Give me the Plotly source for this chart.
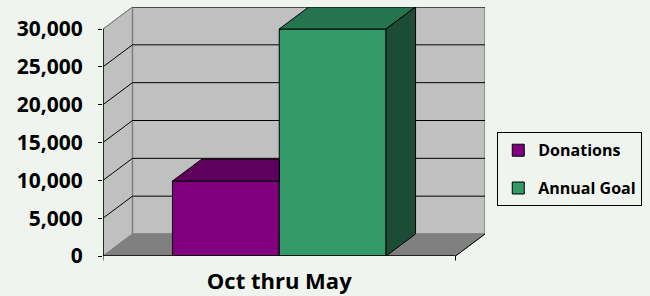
import plotly.graph_objects as go

# ---- data ----
categories = ["Oct thru May"]
series_names = ["Donations", "Annual Goal"]
donations = [9900]
annual_goal = [30000]
y_tickvals = [0, 5000, 10000, 15000, 20000, 25000, 30000]
y_ticktext = ["0", "5,000", "10,000", "15,000", "20,000", "25,000", "30,000"]

# ---- style / layout constants ----
front_colors = ["#800080", "#339966"]
top_colors = ["#5E005E", "#267350"]
side_colors = ["#4A004A", "#1C4C35"]
bg = "#F0F4EF"
wall = "#C0C0C0"
floor = "#808080"
edge = "#808080"
font_family = "Open Sans"

bar_width = 0.303          # in category units
depth_x = 0.0836           # 3-D depth offset along x (category units)
y_max_axis = y_tickvals[-1]
depth_y = 2907             # 3-D depth offset along y (value units)

series_values = [donations, annual_goal]
n = len(series_names)

fig = go.Figure()

# ---- walls and floor (shapes below traces) ----
shapes = []
xl, xr = -0.5, 0.5
shapes.append(dict(type="path", xref="x", yref="y", layer="below",
                   path=f"M{xl},0 L{xl+depth_x},{depth_y} L{xl+depth_x},{y_max_axis+depth_y} L{xl},{y_max_axis} Z",
                   fillcolor=wall, line=dict(color=edge, width=1)))
shapes.append(dict(type="rect", xref="x", yref="y", layer="below",
                   x0=xl+depth_x, x1=xr+depth_x, y0=depth_y, y1=y_max_axis+depth_y,
                   fillcolor=wall, line=dict(color=edge, width=1.5)))
shapes.append(dict(type="path", xref="x", yref="y", layer="below",
                   path=f"M{xl},0 L{xr},0 L{xr+depth_x},{depth_y} L{xl+depth_x},{depth_y} Z",
                   fillcolor=floor, line=dict(color=edge, width=1)))
shapes.append(dict(type="line", xref="x", yref="y", layer="below",
                   x0=xr, y0=0, x1=xr+depth_x, y1=depth_y, line=dict(color="black", width=1)))
for v in y_tickvals[1:]:
    shapes.append(dict(type="line", xref="x", yref="y", layer="below",
                       x0=xl+depth_x, x1=xr+depth_x, y0=v+depth_y, y1=v+depth_y,
                       line=dict(color="black", width=1)))
    shapes.append(dict(type="line", xref="x", yref="y", layer="below",
                       x0=xl, x1=xl+depth_x, y0=v, y1=v+depth_y,
                       line=dict(color="black" if v < y_max_axis else edge, width=1)))
shapes.append(dict(type="line", xref="x", yref="y", layer="above",
                   x0=xl, x1=xl, y0=0, y1=y_max_axis, line=dict(color="black", width=1.5)))
shapes.append(dict(type="line", xref="x", yref="y", layer="above",
                   x0=xl, x1=xr, y0=0, y1=0, line=dict(color="black", width=1.5)))
for xt in (xl, xr):
    shapes.append(dict(type="line", xref="x", yref="paper", layer="above",
                       x0=xt, x1=xt, y0=0, y1=-0.018, line=dict(color="black", width=1)))

# ---- bars: front faces ----
group_left = 0 - n * bar_width / 2
for i, (name, vals) in enumerate(zip(series_names, series_values)):
    x0 = group_left + i * bar_width
    fig.add_trace(go.Bar(
        x=[x0 + bar_width / 2], y=vals, width=[bar_width], name=name,
        legendgroup=name,
        marker=dict(color=front_colors[i], line=dict(color="black", width=1)),
        hoverinfo="skip"))

# ---- bars: top and side faces ----
for i, vals in enumerate(series_values):
    v = vals[0]
    x0 = group_left + i * bar_width
    x1 = x0 + bar_width
    if i < n - 1:
        tx = [x0, x1, x1, x0 + depth_x, x0]
    else:
        tx = [x0, x1, x1 + depth_x, x0 + depth_x, x0]
    ty = [v, v, v + depth_y, v + depth_y, v]
    fig.add_trace(go.Scatter(x=tx, y=ty, fill="toself", fillcolor=top_colors[i],
                             mode="lines", line=dict(color="black", width=1),
                             showlegend=False, hoverinfo="skip"))
    if i == n - 1:
        sx = [x1, x1 + depth_x, x1 + depth_x, x1, x1]
        sy = [0, depth_y, v + depth_y, v, 0]
        fig.add_trace(go.Scatter(x=sx, y=sy, fill="toself", fillcolor=side_colors[i],
                                 mode="lines", line=dict(color="black", width=1),
                                 showlegend=False, hoverinfo="skip"))

fig.update_layout(
    width=650, height=296,
    margin=dict(l=103, r=165, t=7, b=40),
    paper_bgcolor=bg, plot_bgcolor=bg,
    barmode="overlay",
    shapes=shapes,
    showlegend=True,
    hovermode=False,
    legend=dict(xref="container", yref="container", x=0.765, y=0.553,
                xanchor="left", yanchor="top",
                bordercolor="black", borderwidth=1, bgcolor="rgba(0,0,0,0)",
                font=dict(family=font_family, size=16, color="black", weight="bold"),
                traceorder="grouped", tracegroupgap=14),
    xaxis=dict(range=[xl, xr + depth_x], tickvals=[0], ticktext=categories,
               showgrid=False, zeroline=False, showline=False, ticks="",
               automargin=False, ticklabelstandoff=10,
               tickfont=dict(family=font_family, size=22, color="black", weight="bold")),
    yaxis=dict(range=[0, y_max_axis + depth_y], tickvals=y_tickvals, ticktext=y_ticktext,
               showgrid=False, zeroline=False, showline=False,
               ticks="outside", ticklen=4, tickcolor="black", tickwidth=1,
               automargin=False, ticklabelstandoff=11,
               tickfont=dict(family=font_family, size=21, color="black", weight="bold")),
)

fig.write_html("out.html",
               config={"displayModeBar": False},
               post_script="document.body.style.margin='0';document.body.style.padding='0';"
                           "document.body.style.background='" + bg + "';")
